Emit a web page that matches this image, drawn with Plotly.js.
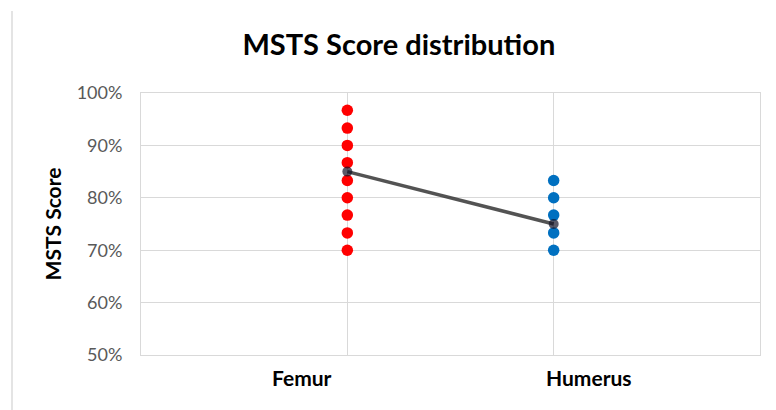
<!DOCTYPE html>
<html>
<head>
<meta charset="utf-8">
<script src="https://cdn.plot.ly/plotly-3.0.1.min.js"></script>
<style>
  html, body { margin: 0; padding: 0; background: #fff; }
  #wrap { position: relative; width: 776px; height: 410px; }
  #frame { position: absolute; left: 11px; top: 11px; width: 2px; height: 399px; background: #e4e4e4; }
  #chart { position: absolute; left: 0; top: 0; width: 776px; height: 410px; }
</style>
</head>
<body>
<div id="wrap">
  <div id="chart"></div>
  <div id="frame"></div>
</div>
<script>
// Data
var categories = ['Femur', 'Humerus'];
var femurScores = [0.967, 0.933, 0.900, 0.867, 0.833, 0.800, 0.767, 0.733, 0.700];
var humerusScores = [0.833, 0.800, 0.767, 0.733, 0.700];
var meanScores = [0.85, 0.75];
var yTicks = [0.5, 0.6, 0.7, 0.8, 0.9, 1.0];

var femurPos = 1, humerusPos = 2;
var FONT = 'Lato, "Open Sans", sans-serif';

var traces = [
  {
    type: 'scatter', mode: 'markers',
    x: femurScores.map(function () { return femurPos; }),
    y: femurScores,
    marker: { color: '#ff0000', size: 11.5 },
    name: categories[0], hoverinfo: 'y'
  },
  {
    type: 'scatter', mode: 'markers',
    x: humerusScores.map(function () { return humerusPos; }),
    y: humerusScores,
    marker: { color: '#0070c0', size: 11.5 },
    name: categories[1], hoverinfo: 'y'
  },
  {
    type: 'scatter', mode: 'lines+markers',
    x: [femurPos, humerusPos],
    y: meanScores,
    line: { color: 'rgba(40,40,40,0.8)', width: 3.5 },
    marker: { color: 'rgba(20,20,40,0.7)', size: 10 },
    name: 'Mean', hoverinfo: 'y'
  }
];

var layout = {
  width: 776, height: 410,
  margin: { l: 141, r: 16, t: 93, b: 55 },
  paper_bgcolor: '#ffffff', plot_bgcolor: '#ffffff',
  showlegend: false,
  title: {
    text: '<b>MSTS Score distribution</b>',
    font: { family: FONT, size: 29, color: '#000' },
    x: 0.514, xanchor: 'center', y: 0.89, yanchor: 'middle'
  },
  xaxis: {
    range: [0, 3],
    tickvals: [0, 1, 2, 3],
    showticklabels: false,
    showgrid: true, gridcolor: '#d9d9d9', gridwidth: 1,
    zeroline: false,
    showline: true, linecolor: '#d9d9d9', linewidth: 1, mirror: true,
    ticks: ''
  },
  yaxis: {
    range: [0.5, 1.0],
    tickvals: yTicks,
    tickformat: '.0%',
    tickfont: { family: FONT, size: 18, color: '#595959' },
    ticks: '', ticklabelstandoff: 14,
    showgrid: true, gridcolor: '#d9d9d9', gridwidth: 1,
    zeroline: false,
    showline: true, linecolor: '#d9d9d9', linewidth: 1, mirror: true,
    title: {
      text: '<b>MSTS Score</b>',
      font: { family: FONT, size: 21, color: '#000' },
      standoff: 9
    }
  },
  annotations: [
    {
      text: '<b>' + categories[0] + '</b>', xref: 'x', yref: 'paper',
      x: 0.78, y: -0.085, xanchor: 'center', yanchor: 'middle', showarrow: false,
      font: { family: FONT, size: 21, color: '#000' }
    },
    {
      text: '<b>' + categories[1] + '</b>', xref: 'x', yref: 'paper',
      x: 2.17, y: -0.085, xanchor: 'center', yanchor: 'middle', showarrow: false,
      font: { family: FONT, size: 21, color: '#000' }
    }
  ]
};

Plotly.newPlot('chart', traces, layout, { displayModeBar: false, staticPlot: true });
</script>
</body>
</html>
